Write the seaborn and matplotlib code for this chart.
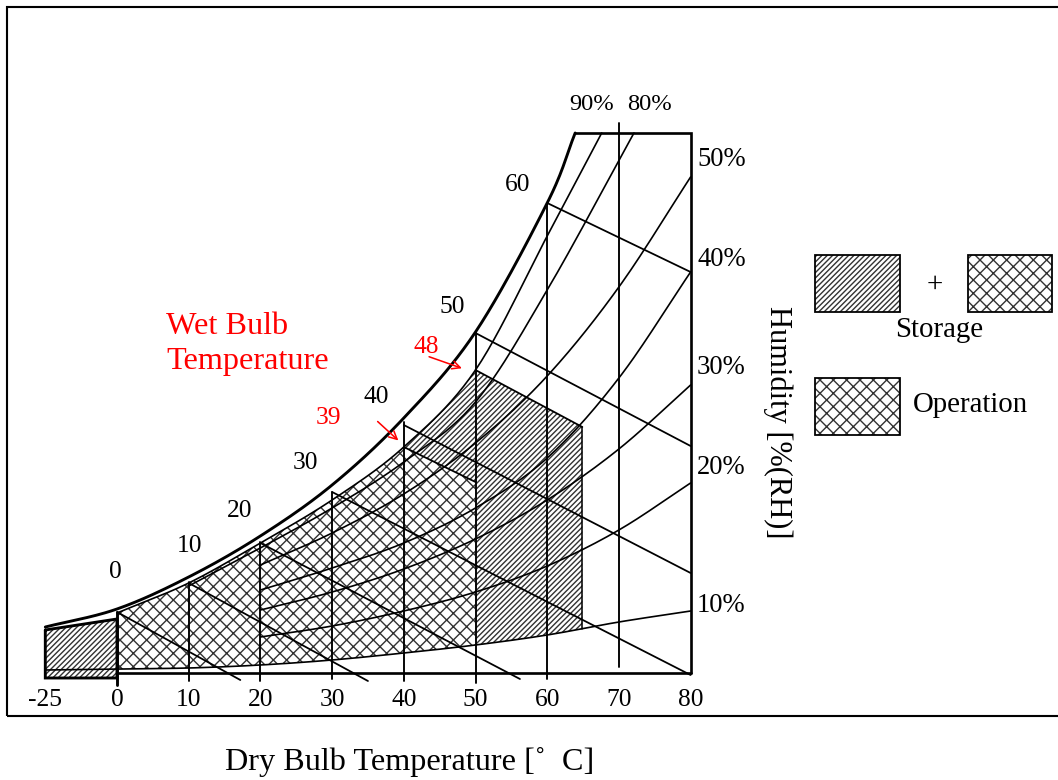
import numpy as np
import pandas as pd
import matplotlib
matplotlib.use("Agg")
import matplotlib.pyplot as plt
import seaborn as sns
from matplotlib.patches import Rectangle, FancyArrowPatch

# ---------------- data (chart positions: dry bulb degC, chart height) ----------------
TICK_LABELS = ["-25", "0", "10", "20", "30", "40", "50", "60", "70", "80"]
TICK_POS = [-10, 0, 10, 20, 30, 40, 50, 60, 70, 80]

RH100_T = [-10, 0, 10, 20, 30, 40, 50, 60, 63.9]
RH100_H = [46, 64, 96, 137, 188, 255, 341, 470, 540]
RH90_T = [0, 10, 20, 30, 40, 50, 60, 67.6]
RH90_H = [60, 90, 130, 173, 226, 303, 437, 540]
RH80_T = [10, 20, 30, 40, 50, 60, 72.1]
RH80_H = [87, 125, 165, 211, 271, 383, 540]
RH_FAN_T = [20, 30, 40, 50, 60, 70, 80]
RH50_H = [108, 140, 179, 230, 297, 386, 496]
RH40_H = [83, 105, 130, 165, 215, 295, 401]
RH30_H = [63, 81, 104, 134, 173, 224, 288]
RH20_H = [36, 47, 62, 81, 107, 143, 190]
RH10_T = [-10, 0, 10, 20, 30, 40, 50, 60, 70, 80]
RH10_H = [3, 4, 5, 8, 13, 20, 28, 38, 51, 62]

WB_LABELS = ["0", "10", "20", "30", "40", "50", "60"]
WB_START_T = [0, 10, 20, 30, 40, 50, 60]
WB_START_H = [61, 90, 130, 181, 248, 340, 470]
WB_END_T = [17.2, 35.0, 56.2, 80, 80, 80, 80]
WB_END_H = [-7, -8, -6, -2, 100, 227, 401]

VERT_T = [0, 10, 20, 30, 40, 50, 60, 70]
VERT_BOTTOM = [-12, -8, -8, -6, -8, -10, -6, 6]
VERT_TOP = [61, 91, 131, 181, 251, 341, 470, 550]

OPER_WB = [39, 40, 226, 50, 191]      # label, T0, H0, T1, H1
STOR_WB = [48, 50, 303, 64.9, 246]
STOR_MAX_T = 64.9
STORAGE_LOW_T = [-10, 0]
STORAGE_LOW_TOP = [43, 54]
STORAGE_LOW_BOTTOM = -5
CHART_TOP = 540
CHART_RIGHT = 80

RH_TOP_LABELS = ["90%", "80%"]
RH_SIDE_LABELS = ["50%", "40%", "30%", "20%", "10%"]

# ---------------- helpers ----------------
X0, KX, Y0 = 117.0, 7.17, 673.0


def P(x, y):
    return (x - X0) / KX, Y0 - y


def smooth(xs, ys, n=24):
    pts = np.column_stack([xs, ys]).astype(float)
    if len(pts) < 3:
        return pts
    Pp = np.vstack([2 * pts[0] - pts[1], pts, 2 * pts[-1] - pts[-2]])
    out = []
    t = np.linspace(0, 1, n, endpoint=False)[:, None]
    for i in range(1, len(Pp) - 2):
        p0, p1, p2, p3 = Pp[i - 1], Pp[i], Pp[i + 1], Pp[i + 2]
        seg = 0.5 * ((2 * p1) + (-p0 + p2) * t + (2 * p0 - 5 * p1 + 4 * p2 - p3) * t ** 2
                     + (-p0 + 3 * p1 - 3 * p2 + p3) * t ** 3)
        out.append(seg)
    out.append(pts[-1][None])
    return np.vstack(out)


def section(xs, ys, a, b):
    s = smooth(xs, ys)
    m = (s[:, 0] > a) & (s[:, 0] < b)
    ya = np.interp(a, s[:, 0], s[:, 1])
    yb = np.interp(b, s[:, 0], s[:, 1])
    return np.vstack([[a, ya], s[m], [b, yb]])


# ---------------- figure ----------------
sns.set_theme(style="white")
plt.rcParams['font.family'] = ['Liberation Serif', 'DejaVu Serif']
plt.rcParams['text.color'] = 'black'
plt.rcParams['hatch.linewidth'] = 1.25

DPI = 80
fig = plt.figure(figsize=(1058 / DPI, 780 / DPI), dpi=DPI)
ax = fig.add_axes([0, 0, 1, 1])
ax.set_xlim(P(0, 0)[0], P(1058, 0)[0])
ax.set_ylim(P(0, 780)[1], P(0, 0)[1])
ax.axis('off')

HATCH_C = '#333333'
H_STOR = '/////'
H_OPER = 'xx'

# shaded regions
oper_top = section(RH90_T, RH90_H, 0, OPER_WB[1])
oper_bot = section(RH10_T, RH10_H, 0, OPER_WB[3])[::-1]
oper_poly = np.vstack([oper_top, [[OPER_WB[3], OPER_WB[4]]], oper_bot])
ax.fill(oper_poly[:, 0], oper_poly[:, 1], facecolor='white', edgecolor=HATCH_C,
        hatch=H_OPER, lw=0, zorder=1)

stor_top = section(RH90_T, RH90_H, OPER_WB[1], STOR_WB[1])
stor_bot = section(RH10_T, RH10_H, OPER_WB[3], STOR_MAX_T)[::-1]
stor_poly = np.vstack([stor_top, [[STOR_WB[3], STOR_WB[4]]], stor_bot,
                       [[OPER_WB[3], OPER_WB[4]]]])
ax.fill(stor_poly[:, 0], stor_poly[:, 1], facecolor='white', edgecolor=HATCH_C,
        hatch=H_STOR, lw=0, zorder=1)

low_x = [STORAGE_LOW_T[0], STORAGE_LOW_T[1], STORAGE_LOW_T[1], STORAGE_LOW_T[0]]
low_y = [STORAGE_LOW_TOP[0], STORAGE_LOW_TOP[1], STORAGE_LOW_BOTTOM, STORAGE_LOW_BOTTOM]
ax.fill(low_x, low_y, facecolor='white', edgecolor=HATCH_C, hatch=H_STOR, lw=0, zorder=1)
ax.plot(low_x + [low_x[0]], low_y + [low_y[0]], color='black', lw=2.6, zorder=3,
        solid_joinstyle='miter')

# RH curves
curves = [(RH100_T, RH100_H, 2.6), (RH90_T, RH90_H, 1.5), (RH80_T, RH80_H, 1.5),
          (RH_FAN_T, RH50_H, 1.5), (RH_FAN_T, RH40_H, 1.5), (RH_FAN_T, RH30_H, 1.5),
          (RH_FAN_T, RH20_H, 1.5), (RH10_T, RH10_H, 1.5)]
for i, (tx, hy, lw) in enumerate(curves):
    s = smooth(tx, hy)
    df = pd.DataFrame({'T': s[:, 0], 'H': s[:, 1]})
    sns.lineplot(data=df, x='T', y='H', sort=False, estimator=None, color='black',
                 lw=lw, ax=ax, zorder=4)
ax.axis('off')

# vertical dry bulb lines
for t, b, tp in zip(VERT_T, VERT_BOTTOM, VERT_TOP):
    ax.plot([t, t], [b, tp], color='black', lw=2.6 if t == 0 else 1.7, zorder=4)

# wet bulb lines
for t0, h0, t1, h1 in zip(WB_START_T, WB_START_H, WB_END_T, WB_END_H):
    ax.plot([t0, t1], [h0, h1], color='black', lw=1.6, zorder=4)
ax.plot([OPER_WB[1], OPER_WB[3]], [OPER_WB[2], OPER_WB[4]], color='black', lw=1.6, zorder=4)
ax.plot([STOR_WB[1], STOR_WB[3]], [STOR_WB[2], STOR_WB[4]], color='black', lw=1.6, zorder=4)
ax.plot([STOR_MAX_T, STOR_MAX_T], [STOR_WB[4], np.interp(STOR_MAX_T, RH10_T, RH10_H)],
        color='black', lw=1.4, zorder=4)

# frame
ax.plot([0, CHART_RIGHT], [0, 0], color='black', lw=2.4, zorder=5)
ax.plot([CHART_RIGHT, CHART_RIGHT, RH100_T[-1]], [0, CHART_TOP, CHART_TOP],
        color='black', lw=2.4, zorder=5, solid_joinstyle='miter')

# outer border
bx, by = P(7, 716)
bx2, by2 = P(1070, 7)
ax.add_patch(Rectangle((bx, by), bx2 - bx, by2 - by, fill=False, lw=1.9,
                       edgecolor='black', zorder=6))

FS = 23
# tick labels
for lab, pos in zip(TICK_LABELS, TICK_POS):
    ax.text(pos, P(0, 700)[1], lab, ha='center', va='center', fontsize=FS)

# wet bulb labels
wb_lab_px = [(115, 572), (190, 546), (240, 511), (305, 463), (376, 397), (452, 307), (518, 185)]
for lab, (x, y) in zip(WB_LABELS, wb_lab_px):
    ax.text(*P(x, y), lab, ha='center', va='center', fontsize=FS)

for lab, (x, y) in zip(RH_TOP_LABELS, [(592, 104), (650, 104)]):
    ax.text(*P(x, y), lab, ha='center', va='center', fontsize=22)
for lab, y in zip(RH_SIDE_LABELS, [160, 260, 368, 467, 605]):
    ax.text(*P(697, y), lab, ha='left', va='center', fontsize=24)

# red annotations
ax.text(*P(166, 327), "Wet Bulb", color='red', ha='left', va='center', fontsize=29)
ax.text(*P(166, 362), "Temperature", color='red', ha='left', va='center', fontsize=29)
ax.text(*P(426, 347), str(STOR_WB[0]), color='red', ha='center', va='center', fontsize=FS)
ax.text(*P(328, 418), str(OPER_WB[0]), color='red', ha='center', va='center', fontsize=FS)
for (xa, ya), (xb, yb) in [((427, 356), (464, 369)), ((376, 420), (400, 442))]:
    ax.add_patch(FancyArrowPatch(P(xa, ya), P(xb, yb), arrowstyle='->', mutation_scale=18,
                                 color='red', lw=1.4, zorder=7))

# axis titles
ax.text(*P(778, 422), "Humidity [%(RH)]", rotation=-90, ha='center', va='center', fontsize=27.5)
ax.text(*P(410, 762), "Dry Bulb Temperature [\u02da  C]", ha='center', va='center', fontsize=29)

# legend
def box(x1, y1, x2, y2, hatch):
    (a, b), (c, d) = P(x1, y2), P(x2, y1)
    ax.add_patch(Rectangle((a, b), c - a, d - b, facecolor='white', edgecolor=HATCH_C,
                           hatch=hatch, lw=0, zorder=6))
    ax.add_patch(Rectangle((a, b), c - a, d - b, fill=False, edgecolor='black', lw=1.6, zorder=7))

box(815, 255, 900, 312, H_STOR)
box(968, 255, 1052, 312, H_OPER)
box(815, 378, 900, 435, H_OPER)
ax.text(*P(935, 285), "+", ha='center', va='center', fontsize=26)
ax.text(*P(939, 330), "Storage", ha='center', va='center', fontsize=26)
ax.text(*P(913, 405), "Operation", ha='left', va='center', fontsize=26)

fig.savefig("out.png", dpi=DPI)
